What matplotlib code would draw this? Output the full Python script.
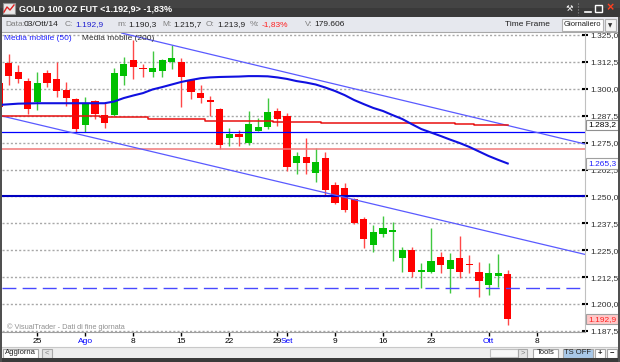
import numpy as np
import matplotlib
matplotlib.use('Agg')
import matplotlib.pyplot as plt
from matplotlib.patches import Rectangle

plt.rcParams['font.family'] = ['Liberation Sans', 'DejaVu Sans']

# ---- data (bar index 0 = 22 Jul 2014, 52 = 3 Oct 2014) ----
bar_idx = np.arange(-1, 53)
opens = [1302.5, 1312.1, 1307.7, 1303.8, 1294.0, 1307.2, 1304.4, 1299.4, 1295.3, 1283.2,
         1294.3, 1287.8, 1287.8, 1306.1, 1313.4, 1309.6, 1307.9, 1308.4, 1312.6, 1312.3,
         1304.1, 1298.2, 1294.6, 1290.6, 1277.3, 1278.9, 1274.7, 1280.5, 1282.4, 1289.7,
         1287.4, 1265.7, 1268.4, 1260.7, 1268.0, 1255.2, 1253.8, 1248.7, 1239.4, 1227.3,
         1232.4, 1233.6, 1221.5, 1225.1, 1214.7, 1215.0, 1222.0, 1216.3, 1221.2, 1218.5,
         1215.0, 1208.8, 1213.2, 1213.9]
highs = [1304.0, 1316.2, 1311.1, 1304.9, 1307.9, 1308.7, 1312.3, 1303.0, 1295.6, 1296.3,
         1294.8, 1293.5, 1309.5, 1314.9, 1322.7, 1311.4, 1317.6, 1313.8, 1320.4, 1314.5,
         1304.4, 1301.8, 1296.8, 1290.9, 1281.9, 1280.9, 1289.7, 1286.3, 1295.6, 1290.9,
         1288.9, 1270.5, 1277.0, 1272.6, 1270.5, 1256.6, 1256.4, 1249.1, 1240.3, 1236.7,
         1241.0, 1238.2, 1226.6, 1226.6, 1218.9, 1235.2, 1224.3, 1223.6, 1231.6, 1222.8,
         1219.7, 1218.9, 1223.1, 1215.7]
lows = [1290.0, 1301.8, 1302.8, 1288.5, 1290.2, 1300.7, 1296.3, 1292.0, 1280.1, 1280.1,
        1285.8, 1281.6, 1287.4, 1301.8, 1304.4, 1305.6, 1305.6, 1305.6, 1309.1, 1291.7,
        1295.3, 1293.5, 1287.4, 1271.9, 1273.4, 1273.4, 1273.9, 1280.5, 1281.2, 1282.7,
        1261.8, 1260.4, 1260.4, 1256.8, 1250.7, 1246.3, 1242.6, 1237.2, 1226.2, 1224.3,
        1231.0, 1220.1, 1214.7, 1212.7, 1207.3, 1214.3, 1214.5, 1205.0, 1211.9, 1214.3,
        1203.4, 1204.2, 1208.0, 1190.3]
closes = [1291.7, 1306.1, 1304.4, 1290.6, 1302.8, 1302.8, 1299.0, 1295.6, 1281.2, 1293.5,
          1288.3, 1284.2, 1307.2, 1311.4, 1310.3, 1309.3, 1309.5, 1313.4, 1314.5, 1305.3,
          1298.4, 1295.6, 1294.4, 1273.9, 1278.9, 1277.6, 1283.5, 1282.1, 1289.1, 1285.8,
          1263.8, 1268.9, 1265.4, 1265.8, 1253.0, 1246.8, 1243.7, 1237.5, 1230.1, 1233.3,
          1235.2, 1234.4, 1225.1, 1215.0, 1215.8, 1220.1, 1218.1, 1220.4, 1214.7, 1218.3,
          1210.8, 1214.5, 1214.3, 1192.9]

ma50 = [1292.5, 1292.8, 1293.1, 1293.2, 1293.3, 1293.3, 1293.3, 1293.3, 1293.3, 1293.3,
        1293.3, 1293.3, 1294.1, 1295.7, 1296.9, 1298.0, 1299.7, 1300.8, 1302.0, 1303.2,
        1304.1, 1304.9, 1305.3, 1305.5, 1305.6, 1305.7, 1305.9, 1305.9, 1305.8, 1305.3,
        1304.6, 1303.6, 1302.9, 1302.0, 1300.6, 1299.0, 1297.1, 1294.8, 1292.9, 1291.1,
        1289.7, 1287.8, 1286.0, 1283.6, 1281.3, 1279.7, 1278.1, 1276.4, 1274.8, 1273.0,
        1270.9, 1268.8, 1267.0, 1265.3]
ma200 = ([1287.2] * 11 + [1286.9] * 5 + [1286.1] * 6 + [1285.0] * 7 + [1284.7] * 5
         + [1284.2] * 14 + [1283.6] * 2 + [1283.2] * 4)

level_blue = 1279.8
level_pink = 1271.9
level_navy = 1250.0
level_dash = 1207.3
trend_upper_x, trend_upper_y = [11.8, 60.1], [1325.9, 1274.3]
trend_lower_x, trend_lower_y = [-1.0, 60.1], [1287.7, 1223.0]

grid_levels = np.arange(1187.5, 1326, 12.5)
tick_pos = [3, 8, 13, 18, 23, 28, 29, 34, 39, 44, 50, 55]
tick_lab = ['25', 'Ago', '8', '15', '22', '29', 'Set', '9', '16', '23', 'Ott', '8']
month_labels = {'Ago', 'Set', 'Ott'}

RED, GREEN = '#ff0000', '#00c000'
W, H = 620, 362


def px(x, y):
    return x / W, 1 - y / H


def it_fmt(v):
    s = f"{v:,.1f}"
    return s.replace(',', 'X').replace('.', ',').replace('X', '.')


fig = plt.figure(figsize=(6.2, 3.62), dpi=100, facecolor='white')

# main price pane
l, b = px(2, 332)
r, t = px(585, 32)
ax = fig.add_axes([l, b, r - l, t - b])
ax.set_xlim(-0.68, 60.05)
ax.set_ylim(1187.0, 1326.4)

for g in grid_levels:
    ax.axhline(g, color='#a8a8a8', lw=1, ls=(0, (1.5, 1.5)), zorder=1)

# candles
for i, o, hi, lo, c in zip(bar_idx, opens, highs, lows, closes):
    up = c >= o
    col = GREEN if up else RED
    wcol = '#40c840' if up else '#ff4848'
    ax.vlines(i, lo, hi, color=wcol, lw=1, zorder=3)
    body = abs(c - o)
    if body < 0.7:
        ax.bar(i, 0.8, bottom=(o + c) / 2 - 0.4, width=0.75, color=col, lw=0, zorder=4)
    else:
        ax.bar(i, body, bottom=min(o, c), width=0.75, color=col, lw=0, zorder=4)

# studies and drawn lines
ax.axhline(level_blue, color='#0000ff', lw=0.9, zorder=5)
ax.axhline(level_pink, color='#f07878', lw=1.1, zorder=5)
ax.axhline(level_navy, color='#0000c0', lw=1.5, zorder=5)
ax.axhline(level_dash, color='#4848ff', lw=1.0, ls=(0, (10, 4.5)), zorder=5)
ax.plot(trend_upper_x, trend_upper_y, color='#5a5aff', lw=0.9, zorder=5)
ax.plot(trend_lower_x, trend_lower_y, color='#5a5aff', lw=0.9, zorder=5)
ax.plot(bar_idx, ma200, color='#e81010', lw=1.1, drawstyle='steps-mid', zorder=6)
ax.plot(bar_idx, ma50, color='#1010e0', lw=1.5, zorder=6)

# axes styling
for s in ['left', 'top']:
    ax.spines[s].set_visible(False)
ax.spines['bottom'].set_color('#a0a0a0')
ax.spines['right'].set_color('#c0c0c0')
ax.yaxis.tick_right()
ax.set_yticks(grid_levels)
ax.set_yticklabels([it_fmt(v) for v in grid_levels])
ax.tick_params(axis='y', direction='inout', length=4, width=1.5, pad=1.5,
               labelsize=6, labelcolor='#303030', color='black')
ax.set_xticks(tick_pos)
ax.set_xticklabels(tick_lab)
ax.tick_params(axis='x', direction='out', length=3, width=1, pad=1.5, labelsize=6)
for tk, lab in zip(ax.xaxis.get_major_ticks(), tick_lab):
    colr = '#0000ff' if lab in month_labels else 'black'
    tk.tick1line.set_color(colr)
    tk.label1.set_color(colr)


def value_box(val, tcolor, fcolor, ecolor):
    ax.annotate(it_fmt(val), xy=(1, val), xycoords=('axes fraction', 'data'),
                xytext=(2.2, 0), textcoords='offset points', ha='left', va='center',
                fontsize=6, color=tcolor, annotation_clip=False, zorder=10,
                bbox=dict(boxstyle='square,pad=0.2', fc=fcolor, ec=ecolor, lw=0.8))


value_box(ma200[-1], 'black', 'white', '#909090')
value_box(ma50[-1], '#2020ff', 'white', '#a0a0a0')
value_box(closes[-1], '#ff2020', '#ffc8c8', '#a0a0a0')

# pane texts
fig.text(*px(4, 38), 'Media mobile (50)', color='#2020ff', fontsize=6, va='center')
fig.text(*px(82, 38), 'Media mobile (200)', color='#303030', fontsize=6, va='center')
fig.text(*px(7, 327), '\u00a9 VisualTrader - Dati di fine giornata', color='#909090',
         fontsize=5.3, va='center')


def rect(x0, y0, x1, y1, fc, ec='none', lw=0.8, z=2):
    fig.patches.append(Rectangle(px(x0, y1), (x1 - x0) / W, (y1 - y0) / H,
                                 transform=fig.transFigure, fc=fc, ec=ec, lw=lw, zorder=z))


# title bar
rect(0, 0, 620, 17, '#3a3a3a')
rect(0, 0, 620, 8, '#444444')
rect(3, 3, 15, 14, '#e8e8e8', '#909090')
fig.lines.append(plt.Line2D([4 / W, 7 / W, 10 / W, 14 / W], [1 - 12 / H, 1 - 7 / H, 1 - 10 / H, 1 - 5 / H],
                            transform=fig.transFigure, color='#e02020', lw=1, zorder=3))
fig.text(*px(19, 9), 'GOLD 100 OZ FUT <1.192,9> -1,83%', color='white', fontsize=6.5,
         fontweight='bold', va='center')
fig.text(*px(569, 8.5), '\u2692', color='white', fontsize=6, ha='center', va='center',
         family=['DejaVu Sans'])
fig.lines.append(plt.Line2D([578 / W, 578 / W], [1 - 3 / H, 1 - 15 / H], transform=fig.transFigure,
                            color='#909090', lw=0.8, ls=':', zorder=3))
fig.lines.append(plt.Line2D([585 / W, 591 / W], [1 - 12 / H, 1 - 12 / H], transform=fig.transFigure,
                            color='white', lw=1.2, zorder=3))
rect(595, 5, 602, 12, 'none', 'white', 1.0, 3)
fig.text(*px(610, 8.5), '\u00d7', color='#ff4020', fontsize=9, fontweight='bold',
         ha='center', va='center')

# info bar
rect(0, 17, 620, 32, '#e6e8ee')
fig.lines.append(plt.Line2D([0, 1], [1 - 32 / H, 1 - 32 / H], transform=fig.transFigure,
                            color='#a8a8a8', lw=0.8, zorder=3))
info = [(5, 'Data:', '#808080'), (24, '03/Ott/14', '#202020'),
        (65, 'C:', '#808080'), (75, '1.192,9', '#2020d0'),
        (117, 'm:', '#808080'), (128, '1.190,3', '#202020'),
        (162, 'M:', '#808080'), (173, '1.215,7', '#202020'),
        (206, 'O:', '#808080'), (217, '1.213,9', '#202020'),
        (250, '%:', '#808080'), (262, '-1,83%', '#ff2020'),
        (305, 'V:', '#808080'), (314, '179.606', '#202020'),
        (505, 'Time Frame', '#202020')]
for x, s, c in info:
    fig.text(*px(x, 25), s, color=c, fontsize=6, va='center')
rect(562, 19, 603, 31, 'white', '#b0b0b0')
fig.text(*px(564, 25), 'Giornaliero', color='#202020', fontsize=5.5, va='center')
rect(605, 19, 616, 31, '#f4f4f4', '#b0b0b0')
fig.text(*px(610.5, 25.5), '\u25bc', color='#303030', fontsize=4, ha='center', va='center',
         family=['DejaVu Sans'])

# bottom toolbar
rect(0, 347, 620, 358, '#ededed')
fig.lines.append(plt.Line2D([0, 1], [1 - 347 / H, 1 - 347 / H], transform=fig.transFigure,
                            color='#c8c8c8', lw=0.8, zorder=3))
buttons = [(3, 38, 'Aggiorna', 'white', '#202020'), (42, 52, '<', '#e4e4e4', '#808080'),
           (518, 527, '>', '#e4e4e4', '#808080'), (533, 558, 'Tools', 'white', '#202020'),
           (563, 593, 'TS OFF', '#a8c8e8', '#202020'), (595, 605, '+', 'white', '#202020'),
           (607, 617, '\u2212', 'white', '#202020')]
rect(490, 349, 518, 357, '#f8f8f8', '#c0c0c0')
for x0, x1, s, fc, tc in buttons:
    rect(x0, 348.5, x1, 357.5, fc, '#a8a8a8')
    fig.text(*px((x0 + x1) / 2, 353), s, color=tc, fontsize=5.5, ha='center', va='center',
             fontweight='bold' if s in ('+', '\u2212') else 'normal')

# window frame
rect(0, 358, 620, 362, '#3a3a3a', z=4)
rect(0, 17, 1.5, 362, '#505050', z=4)
rect(618, 17, 620, 362, '#505050', z=4)

fig.savefig('out.png', dpi=100)
